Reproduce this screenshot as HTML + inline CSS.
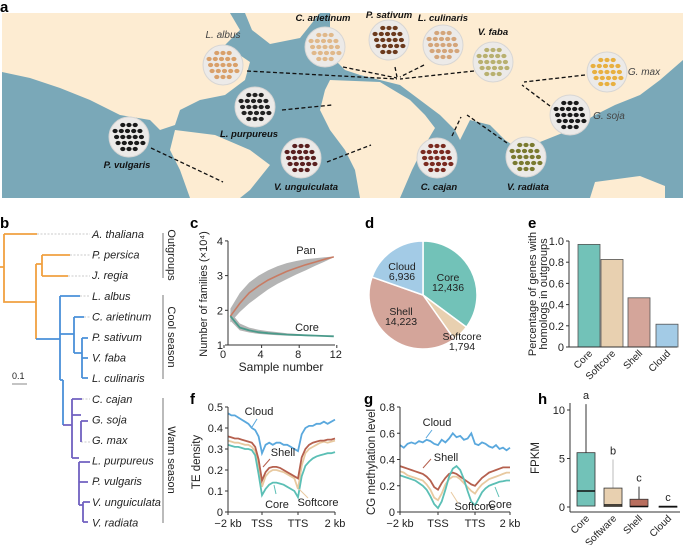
<!DOCTYPE html>
<html><head><meta charset="utf-8"><style>
body{margin:0;background:#fff}
svg{display:block;font-family:"Liberation Sans",sans-serif}
.t{font-size:11px;fill:#222}
.tk{font-size:10px;fill:#222}
.lbl{font-size:9.5px;font-style:italic;font-weight:bold;fill:#111}
.sp{font-size:11px;font-style:italic;fill:#222}
.pl{font-size:15px;font-weight:bold;fill:#000}
</style></head><body>
<svg id="fig" width="685" height="545" viewBox="0 0 685 545">
<text class="pl" x="0" y="12">a</text>
<g id="map">
<rect x="2" y="13" width="681" height="185" fill="#7aa8b8"/>
<g fill="#fdecd2">
<polygon points="2,13 230,13 240,30 225,45 250,62 245,80 225,95 200,100 180,110 175,125 160,130 150,120 120,115 90,100 60,88 30,78 2,72"/>
<polygon points="245,13 320,13 300,38 270,44 252,30"/>
<polygon points="330,13 683,13 683,60 660,80 640,95 615,105 595,115 570,130 545,140 520,150 505,140 490,125 470,120 460,140 455,130 440,115 420,100 400,85 380,80 360,75 345,70 335,60 330,45"/>
<polygon points="330,80 380,82 410,100 425,115 435,128 422,150 412,170 400,198 360,198 355,170 345,150 330,130 320,110 325,90"/>
<polygon points="175,130 215,135 250,150 270,165 250,190 240,198 190,198 180,170 170,150"/>
<polygon points="595,182 640,176 665,186 665,198 590,198"/>
</g>
<g id="dashes" stroke="#111" stroke-width="1.3" stroke-dasharray="4,2.5" fill="none"></g>
<g id="seeds"></g>
</g>

<text class="pl" x="0" y="228">b</text>
<g fill="none" stroke-width="1.8">
<g stroke="#bbb" stroke-width="0.8" stroke-dasharray="2,1.5">
<path d="M37 234H90M70 255H90M68 276H90M80 296H90M84 317H90M81 442H90M82 399H90"/>
</g>
<path stroke="#f0a040" d="M0 267H4M4 234V302H36M4 234H37M36 264V339M36 264H42M42 255V276M42 255H70M42 276H68"/>
<path stroke="#4a90d9" d="M36 339H60M60 296V380M60 296H80M60 334H74M74 317V353M74 317H84M74 353H82M82 338V378M82 338H88M82 358H88M82 378H88M60 380H63M63 380V425"/>
<path stroke="#7060c0" d="M63 425H72M72 399V458M72 399H82M72 415H81M81 421V442M81 421H88M81 442H81M72 458H79M79 462V505M79 462H90M79 482H88M79 505H83M83 502V522M83 502H90M83 522H88"/>
<path stroke="#888" stroke-width="1" d="M12 384H27"/>
</g>
<text class="t" x="12" y="379" style="font-size:9px">0.1</text>
<g id="species" class="sp"></g>
<g stroke="#555" stroke-width="0.8">
<line x1="163" y1="233" x2="163" y2="278"/><line x1="163" y1="295" x2="163" y2="379"/><line x1="163" y1="398" x2="163" y2="523"/>
</g>
<text class="t" transform="translate(168,255) rotate(90)" text-anchor="middle">Outgroups</text>
<text class="t" transform="translate(168,337) rotate(90)" text-anchor="middle">Cool season</text>
<text class="t" transform="translate(168,460) rotate(90)" text-anchor="middle">Warm season</text>

<text class="pl" x="190" y="228">c</text>
<g id="pc"></g>
<text class="pl" x="190" y="404">f</text>
<g id="pf"></g>
<text class="pl" x="365" y="228">d</text>
<g id="pd"></g>
<text class="pl" x="528" y="228">e</text>
<g id="pe"></g>
<text class="pl" x="364" y="404">g</text>
<g id="pg"></g>
<text class="pl" x="538" y="404">h</text>
<g id="ph"></g>
</svg>
<script>
// ---------- data ----------
const panX = [1,2,3,4,5,6,7,8,9,10,11,12];
const panMean = [1.83,2.2,2.5,2.7,2.87,3.0,3.12,3.22,3.31,3.39,3.47,3.54];
const panHi = [2.05,2.5,2.8,3.0,3.15,3.27,3.36,3.42,3.47,3.5,3.53,3.55];
const panLo = [1.65,1.95,2.2,2.4,2.6,2.76,2.9,3.03,3.15,3.28,3.4,3.53];
const coreMean = [1.83,1.5,1.42,1.37,1.34,1.32,1.3,1.29,1.28,1.27,1.26,1.25];
const coreHi = [1.95,1.62,1.5,1.44,1.4,1.37,1.34,1.32,1.3,1.28,1.27,1.25];
const coreLo = [1.7,1.42,1.36,1.32,1.3,1.28,1.27,1.26,1.26,1.25,1.25,1.25];
const cTicksY = [1,2,3,4];
const cTicksX = [0,4,8,12];

const fCloud = [0.47,0.46,0.46,0.45,0.44,0.43,0.42,0.40,0.39,0.36,0.28,0.32,0.33,0.32,0.33,0.33,0.32,0.32,0.31,0.30,0.29,0.37,0.40,0.41,0.41,0.42,0.42,0.43,0.42,0.43,0.44];
const fShell = [0.36,0.355,0.35,0.35,0.345,0.34,0.335,0.33,0.31,0.25,0.15,0.19,0.21,0.215,0.215,0.21,0.20,0.19,0.18,0.17,0.16,0.26,0.30,0.32,0.33,0.335,0.34,0.34,0.345,0.345,0.35];
const fSoft = [0.34,0.335,0.33,0.33,0.325,0.32,0.32,0.31,0.29,0.22,0.12,0.17,0.19,0.20,0.20,0.195,0.19,0.18,0.17,0.16,0.11,0.22,0.28,0.30,0.31,0.32,0.33,0.335,0.33,0.335,0.34];
const fCore = [0.32,0.315,0.31,0.31,0.305,0.30,0.30,0.295,0.27,0.18,0.08,0.11,0.13,0.14,0.14,0.135,0.13,0.12,0.11,0.10,0.07,0.17,0.22,0.24,0.255,0.265,0.27,0.275,0.28,0.28,0.285];
const fTicksY = [0,0.1,0.2,0.3,0.4,0.5];

const gCloud = [0.51,0.49,0.52,0.53,0.52,0.54,0.53,0.55,0.54,0.52,0.51,0.55,0.53,0.56,0.60,0.57,0.58,0.55,0.56,0.60,0.52,0.51,0.53,0.52,0.50,0.49,0.51,0.48,0.49,0.47,0.49];
const gShell = [0.35,0.34,0.33,0.32,0.31,0.30,0.29,0.27,0.24,0.19,0.17,0.22,0.26,0.29,0.30,0.29,0.27,0.25,0.23,0.21,0.20,0.23,0.26,0.28,0.30,0.31,0.32,0.33,0.34,0.34,0.34];
const gSoft = [0.31,0.30,0.28,0.27,0.26,0.25,0.24,0.21,0.17,0.11,0.09,0.14,0.21,0.25,0.27,0.27,0.25,0.22,0.19,0.16,0.14,0.18,0.21,0.23,0.25,0.26,0.27,0.28,0.29,0.30,0.30];
const gCore = [0.28,0.27,0.26,0.25,0.24,0.22,0.20,0.17,0.12,0.06,0.03,0.08,0.17,0.27,0.33,0.35,0.32,0.25,0.16,0.08,0.05,0.10,0.15,0.18,0.20,0.21,0.22,0.23,0.235,0.24,0.24];
const gTicksY = [0,0.2,0.4,0.6,0.8];
const posLabels = ["\u22122 kb","TSS","TTS","2 kb"];

const pieNames = ["Core","Softcore","Shell","Cloud"];
const pieValues = [12436,1794,14223,6936];
const pieLabels = ["12,436","1,794","14,223","6,936"];

const barNames = ["Core","Softcore","Shell","Cloud"];
const barValues = [0.968,0.826,0.464,0.215];
const eTicksY = [0,0.2,0.4,0.6,0.8,1.0];

const boxNames = ["Core","Software","Shell","Cloud"];
const boxQ1 = [0.1,0.05,0.03,0.02];
const boxMed = [1.65,0.2,0.05,0.04];
const boxQ3 = [5.6,1.95,0.8,0.08];
const boxWhisk = [10.6,4.9,2.1,0.1];
const boxLetters = ["a","b","c","c"];
const hTicksY = [0,5,10];

// ---------- helpers ----------
const NS="http://www.w3.org/2000/svg";
function mk(tag,attrs,parent,txt){const e=document.createElementNS(NS,tag);for(const k in attrs)e.setAttribute(k,attrs[k]);if(txt!==undefined)e.textContent=txt;parent.appendChild(e);return e;}
const C={core:"#5bbfb5",soft:"#e8c9a0",shell:"#b5604e",cloud:"#5aa8dd"};

// ---------- map ----------
const dashes=[[247,71,397,79],[343,67,397,78],[395,67,397,77],[424,65,400,77],[474,71,400,79],[585,75,524,82],[550,106,522,85],[282,110,332,105],[151,148,223,182],[327,162,371,145],[452,136,461,117],[507,143,467,115]];
const dg=document.getElementById('dashes');
dashes.forEach(d=>{const l=mk('line',{x1:d[0],y1:d[1],x2:d[2],y2:d[3]},dg);

});
const spots=[["L. albus",223,65,223,38,"#d9a06a",0],["C. arietinum",325,47,323,21,"#e0b88a",1],["P. sativum",389,40,389,18,"#6b3a1e",1],["L. culinaris",443,45,443,21,"#d4a57a",1],["V. faba",493,62,493,35,"#b8b070",1],["G. max",607,72,644,75,"#e8b040",0],["G. soja",570,115,609,119,"#1a1a1a",0],["L. purpureus",255,107,249,137,"#222",1],["P. vulgaris",129,137,127,168,"#1a1a1a",1],["V. unguiculata",301,158,306,190,"#5a2020",1],["C. cajan",437,158,439,190,"#7a2a20",1],["V. radiata",526,157,528,190,"#7a7a30",1]];
const sg=document.getElementById('seeds');
spots.forEach(s=>{
 const g=mk('g',{},sg);
 
 
 mk('circle',{cx:s[1],cy:s[2],r:20,fill:"#eceae8",stroke:"#d8d6d4","stroke-width":1},g);
 for(let i=-2;i<=2;i++)for(let j=-2;j<=2;j++){if(i*i+j*j>6)continue;
  mk('ellipse',{cx:s[1]+i*6.2+(j%2)*1.5,cy:s[2]+j*6,rx:2.6,ry:2.1,fill:s[5]},g);}
 const t=mk('text',{x:s[3],y:s[4],"text-anchor":"middle",class:"lbl"},sg,s[0]);
 if(!s[6]){t.setAttribute('style','font-weight:normal;fill:#444;font-size:10px');}
 
 
});

// ---------- species names ----------
const spNames=["A. thaliana","P. persica","J. regia","L. albus","C. arietinum","P. sativum","V. faba","L. culinaris","C. cajan","G. soja","G. max","L. purpureus","P. vulgaris","V. unguiculata","V. radiata"];
const spg=document.getElementById('species');
spNames.forEach((n,i)=>{const t=mk('text',{x:92,y:238+i*20.6},spg,n);

});

// ---------- axis helper ----------
function yAxis(g,x,y0,y1,ticks,sc,fmt){mk('line',{x1:x,y1:y0,x2:x,y2:y1,stroke:"#333","stroke-width":1},g);
 ticks.forEach(v=>{const y=sc(v);mk('line',{x1:x-3,y1:y,x2:x,y2:y,stroke:"#333"},g);
 const t=mk('text',{x:x-5,y:y+4,"text-anchor":"end",class:"t"},g,fmt(v));
 
 });}
function line(g,xs,ys,sx,sy,col,w,name){const d=ys.map((v,i)=>(i?'L':'M')+sx(xs[i]).toFixed(1)+' '+sy(v).toFixed(1)).join('');
 const p=mk('path',{d,fill:"none",stroke:col,"stroke-width":w},g);
 
 return p;}
function ann(g,txt,tx,ty,x1,y1,x2,y2,col){const t=mk('text',{x:tx,y:ty,class:"t","text-anchor":"middle"},g,txt);
 
 
 mk('line',{x1,y1,x2,y2,stroke:col,"stroke-width":1},g);}

// ---------- panel c ----------
(function(){const g=document.getElementById('pc');
const sx=v=>221+v*9.4, sy=v=>345-(v-1)*34.7;
const band=(hi,lo,name)=>{const d=hi.map((v,i)=>(i?'L':'M')+sx(panX[i])+' '+sy(v)).join('')+lo.slice().reverse().map((v,i)=>'L'+sx(panX[lo.length-1-i])+' '+sy(v)).join('')+'Z';
 const p=mk('path',{d,fill:"#b4b4b4"},g);
 
 };
band(panHi,panLo,'pan-confidence-band');band(coreHi,coreLo,'core-confidence-band');
line(g,panX,panMean,sx,sy,"#c87b63",1.6,'pan-curve');
line(g,panX,coreMean,sx,sy,"#4a9a8a",1.8,'core-curve');
yAxis(g,228,sy(4),345,cTicksY,sy,v=>v);
mk('line',{x1:228,y1:345,x2:335,y2:345,stroke:"#333"},g);
cTicksX.forEach(v=>{mk('line',{x1:sx(v)+3,y1:345,x2:sx(v)+3,y2:348,stroke:"#333"},g);
 const t=mk('text',{x:sx(v)+2,y:358,"text-anchor":"middle",class:"t"},g,v);
 
 });
mk('text',{x:306,y:254,class:"t","text-anchor":"middle"},g,"Pan");
mk('text',{x:307,y:331,class:"t","text-anchor":"middle"},g,"Core");
const xt=mk('text',{x:281,y:371,class:"t","text-anchor":"middle",style:"font-size:12px"},g,"Sample number");


const yt=mk('text',{transform:"translate(207,294) rotate(-90)",class:"t","text-anchor":"middle",style:"font-size:11px"},g,"Number of families (\u00d710\u2074)");


})();

// ---------- profile charts f, g ----------
function profile(id,x0,xs4,y0,ytop,ymax,ticks,series,title,anns,fmt){const g=document.getElementById(id);
 const n=series[0][0].length, idx=series[0][0].map((_,i)=>i);
 const sx=i=>{const u=i/(n-1)*3, k=Math.min(2,Math.floor(u));return xs4[k]+(u-k)*(xs4[k+1]-xs4[k]);};
 const sy=v=>y0-v/ymax*(y0-ytop);
 series.forEach(s=>line(g,idx,s[0],sx,sy,s[1],1.8,s[2]));
 yAxis(g,x0,ytop,y0,ticks,sy,fmt);
 mk('line',{x1:x0,y1:y0,x2:xs4[3],y2:y0,stroke:"#333"},g);
 xs4.forEach((x,i)=>{mk('line',{x1:x,y1:y0,x2:x,y2:y0+3,stroke:"#333"},g);
  const t=mk('text',{x,y:y0+15,"text-anchor":"middle",class:"t"},g,posLabels[i]);
  
  });
 const yt=mk('text',{transform:`translate(${title[1]},${title[2]}) rotate(-90)`,class:"t","text-anchor":"middle",style:"font-size:11.5px"},g,title[0]);
 
 
 anns.forEach(a=>ann(g,...a));}
profile('pf',228,[228,262,298,335],512,407,0.5,fTicksY,[[fSoft,C.soft,'softcore-line'],[fShell,C.shell,'shell-line'],[fCore,C.core,'core-line'],[fCloud,C.cloud,'cloud-line']],["TE density",200,462],
 [["Cloud",259,415,257,419,252,427,C.cloud],["Shell",283,456,270,459,263,467,C.shell],["Core",277,508,276,494,274,485,C.core],["Softcore",318,506,308,498,299,489,C.soft]],v=>v===0?'0':v.toFixed(1));
profile('pg',400,[400,438,475,510],512,407,0.8,gTicksY,[[gSoft,C.soft,'softcore-line'],[gShell,C.shell,'shell-line'],[gCore,C.core,'core-line'],[gCloud,C.cloud,'cloud-line']],["CG methylation level",375,462],
 [["Cloud",437,426,432,430,426,438,C.cloud],["Shell",446,461,431,459,423,468,C.shell],["Softcore",475,510,458,503,451,492,C.soft],["Core",500,508,499,497,495,487,C.core]],v=>v===0?'0':v.toFixed(1));

// ---------- panel d pie ----------
(function(){const g=document.getElementById('pd');const cx=423,cy=295,r=54;
const cols=["#72c2b8","#e8d0b0","#d4a59a","#a3cbe6"];
const tot=pieValues.reduce((a,b)=>a+b,0);let a0=0;
const lpos=[[448,281],[462,340],[401,315],[402,270]];
pieValues.forEach((v,i)=>{const a1=a0+v/tot*2*Math.PI;
 const p=(a)=>[cx+r*Math.sin(a),cy-r*Math.cos(a)];const [x0,y0]=p(a0),[x1,y1]=p(a1);
 const s=mk('path',{d:`M${cx} ${cy}L${x0} ${y0}A${r} ${r} 0 ${a1-a0>Math.PI?1:0} 1 ${x1} ${y1}Z`,fill:cols[i],stroke:"#fff","stroke-width":1.5},g);
 
 
 a0=a1;});
pieNames.forEach((n,i)=>{const t=mk('text',{x:lpos[i][0],y:lpos[i][1],class:"t","text-anchor":"middle",style:"font-size:10.5px"},g);
 
 
 mk('tspan',{x:lpos[i][0]},t,n);mk('tspan',{x:lpos[i][0],dy:10},t,pieLabels[i]);});
})();

// ---------- panel e bars ----------
(function(){const g=document.getElementById('pe');const y0=347,sy=v=>y0-v*106;
const cols=["#72c2b8","#e8d0b0","#d4a59a","#a3cbe6"];const cx=[589,612,639,667];
barValues.forEach((v,i)=>{const b=mk('rect',{x:cx[i]-11,y:sy(v),width:22,height:y0-sy(v),fill:cols[i],stroke:"#555","stroke-width":0.8},g);
 
 
 const t=mk('text',{transform:`translate(${cx[i]+4},${y0+7}) rotate(-45)`,class:"tk","text-anchor":"end"},g,barNames[i]);
 
 });
yAxis(g,569,sy(1),y0,eTicksY,sy,v=>v===0?'0':v.toFixed(1));
mk('line',{x1:569,y1:y0,x2:677,y2:y0,stroke:"#333"},g);
const yt=mk('text',{transform:"translate(536,294) rotate(-90)",class:"t","text-anchor":"middle",style:"font-size:11px"},g);


mk('tspan',{x:0,y:0},yt,"Percentage of genes with");mk('tspan',{x:0,dy:11},yt,"homologs in outgroups");
})();

// ---------- panel h boxplot ----------
(function(){const g=document.getElementById('ph');const y0=507,sy=v=>y0-v*9.7;
const cols=["#72c2b8","#e8d0b0","#b86e5e","#cfcfcf"];const wcol=["#333","#bbb","#333","#333"];const cx=[586,613,639,668];
boxNames.forEach((n,i)=>{
 const w=mk('line',{x1:cx[i],y1:sy(boxQ3[i]),x2:cx[i],y2:sy(boxWhisk[i]),stroke:wcol[i],"stroke-width":1},g);
 
 
 const b=mk('rect',{x:cx[i]-9,y:sy(boxQ3[i]),width:18,height:Math.max(1,sy(boxQ1[i])-sy(boxQ3[i])),fill:cols[i],stroke:"#333","stroke-width":0.8},g);
 
 
 mk('line',{x1:cx[i]-9,y1:sy(boxMed[i]),x2:cx[i]+9,y2:sy(boxMed[i]),stroke:"#111","stroke-width":1.5},g);
 const l=mk('text',{x:cx[i],y:sy(boxWhisk[i])-5,class:"t","text-anchor":"middle"},g,boxLetters[i]);
 
 
 const t=mk('text',{transform:`translate(${cx[i]+4},${y0+12}) rotate(-45)`,class:"tk","text-anchor":"end"},g,n);
 
 });
yAxis(g,570,403,512,hTicksY,sy,v=>v);
mk('line',{x1:570,y1:512,x2:680,y2:512,stroke:"#333"},g);
const yt=mk('text',{transform:"translate(539,458) rotate(-90)",class:"t","text-anchor":"middle",style:"font-size:11.5px"},g,"FPKM");


})();
</script>
</body></html>
